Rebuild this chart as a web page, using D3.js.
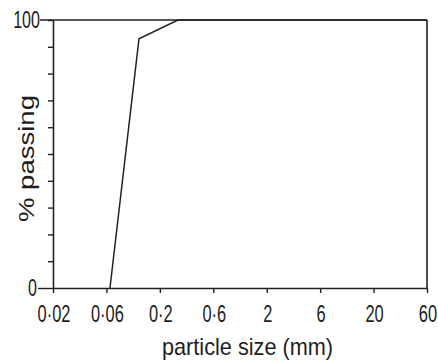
<!DOCTYPE html>
<html><head><meta charset="utf-8">
<script src="https://cdn.jsdelivr.net/npm/d3@7"></script>
<style>
html,body{margin:0;padding:0;background:#fff;}
text{font-family:"Liberation Sans","DejaVu Sans",sans-serif;fill:#1e1e1e;}
</style></head>
<body><svg id="c" width="438" height="363"></svg>
<script>
const xTicks = [0.02, 0.06, 0.2, 0.6, 2, 6, 20, 60];
const xTickLabels = ["0·02", "0·06", "0·2", "0·6", "2", "6", "20", "60"];
const yTicks = [0, 10, 20, 30, 40, 50, 60, 70, 80, 90, 100];
const yTickLabels = ["0", "", "", "", "", "", "", "", "", "", "100"];
const sizes = [0.065, 0.125, 0.29, 60];
const passing = [0, 93, 100, 100];
const xTitle = "particle size (mm)";
const yTitle = "% passing";

const L = 53, R = 427, T = 20, B = 288;
const svg = d3.select("#c");
const ink = "#222";

const x = d3.scaleLog()
  .domain(xTicks)
  .range(xTicks.map((d, i) => L + i * (R - L) / (xTicks.length - 1)));
const y = d3.scaleLinear().domain([0, 100]).range([B, T]);

// frame top & right
svg.append("line").attr("x1", 40).attr("x2", R).attr("y1", y(100)).attr("y2", y(100))
  .attr("stroke", ink).attr("stroke-width", 1.6);
svg.append("line").attr("x1", R).attr("x2", R).attr("y1", y(100)).attr("y2", B)
  .attr("stroke", ink).attr("stroke-width", 1.6);

// x axis
const xAxis = d3.axisBottom(x).tickValues(xTicks).tickSize(5).tickSizeOuter(0)
  .tickFormat((d, i) => "");
const gx = svg.append("g").attr("transform", `translate(0,${B})`).call(xAxis);
gx.select(".domain").attr("stroke", ink).attr("stroke-width", 1.6);
gx.selectAll(".tick line").attr("stroke", ink).attr("stroke-width", 1.4);
xTicks.forEach((d, i) => {
  svg.append("text")
    .attr("transform", `translate(${x(d) + 1},322) scale(0.7,1)`)
    .attr("text-anchor", "middle")
    .style("font-size", "23.5px")
    .text(xTickLabels[i]);
});

// y axis
const yAxis = d3.axisLeft(y).tickValues(yTicks).tickSize(5).tickSizeOuter(0).tickFormat(() => "");
const gy = svg.append("g").attr("transform", `translate(${L},0)`).call(yAxis);
gy.select(".domain").attr("stroke", ink).attr("stroke-width", 1.6);
gy.selectAll(".tick line").attr("stroke", ink).attr("stroke-width", 1.4)
  .attr("x2", d => d === 0 ? -15 : -5);
yTicks.forEach((d, i) => {
  if (!yTickLabels[i]) return;
  svg.append("text")
    .attr("transform", `translate(${d === 0 ? 37 : 40},${y(d) + 8}) scale(0.7,1)`)
    .attr("text-anchor", "end")
    .style("font-size", "23px")
    .text(yTickLabels[i]);
});

// data line
const line = d3.line().x((d, i) => x(sizes[i])).y((d, i) => y(passing[i]));
svg.append("path").datum(sizes).attr("d", line)
  .attr("fill", "none").attr("stroke", ink).attr("stroke-width", 1.5);

// titles
svg.append("text")
  .attr("x", 162).attr("y", 355)
  .attr("textLength", 171).attr("lengthAdjust", "spacingAndGlyphs")
  .style("font-size", "24px")
  .text(xTitle);
svg.append("text")
  .attr("transform", "translate(34,222) rotate(-90)")
  .attr("textLength", 127).attr("lengthAdjust", "spacingAndGlyphs")
  .style("font-size", "22px")
  .text(yTitle);
</script></body></html>
